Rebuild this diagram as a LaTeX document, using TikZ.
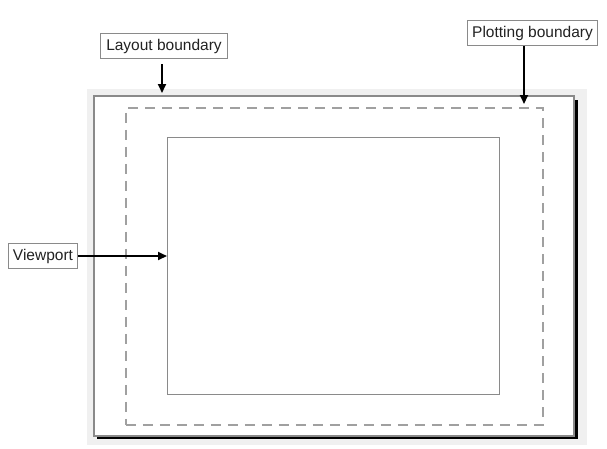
\documentclass[tikz,border=0pt]{standalone}
\usepackage{fontspec}
\setmainfont{Liberation Sans}
\usetikzlibrary{arrows.meta}
\definecolor{halo}{HTML}{F0F0F0}
\definecolor{edge}{HTML}{8A8A8A}
\definecolor{dashc}{HTML}{A0A0A0}
\definecolor{txt}{HTML}{222222}
\tikzset{
  lbl/.style={draw=edge, line width=1pt, fill=white, text=txt, inner sep=0pt,
    font=\fontsize{15.5}{17}\selectfont, anchor=north west},
  pointer/.style={draw=black, line width=2pt, -{Triangle[length=9pt,width=8pt]}},
}
\begin{document}
\begin{tikzpicture}[x=1pt,y=-1pt]
\useasboundingbox (0,0) rectangle (607,448);
\fill[white] (0,0) rectangle (607,448);
% halo around the sheet
\fill[halo] (87,89) rectangle (587,445);
% shadow
\fill[black] (573,100) rectangle (578,439);
\fill[black] (97,435) rectangle (578,439);
% sheet
\node[draw=edge, line width=1.5pt, fill=white, minimum width=480pt, minimum height=340pt, inner sep=0pt, anchor=north west] (sheet) at (93,95) {};
% plotting boundary (dashed)
\node[draw=dashc, line width=1.8pt, dash pattern=on 10pt off 7pt, minimum width=417pt, minimum height=317pt, inner sep=0pt, anchor=north west] (plot) at (125,107) {};
% viewport
\node[draw=edge, line width=1.2pt, minimum width=332pt, minimum height=257pt, inner sep=0pt, anchor=north west] (vp) at (167,137) {};
% labels
\node[lbl, minimum width=127pt, minimum height=25pt] (lay) at (100,33) {Layout boundary};
\node[lbl, minimum width=130pt, minimum height=25pt] (plt) at (467,20) {Plotting boundary};
\node[lbl, minimum width=69pt, minimum height=25pt] (vpl) at (8,243) {Viewport};
% pointer ends
\coordinate (layend) at (162,93);
\coordinate (layst) at (162,64);
\coordinate (pltend) at (524,104);
\draw[pointer] (layst) -- (layend);
\draw[pointer] (plt.south -| pltend) -- (pltend);
\draw[pointer] (vpl.east) -- (vpl.east -| vp.west);
\end{tikzpicture}
\end{document}
